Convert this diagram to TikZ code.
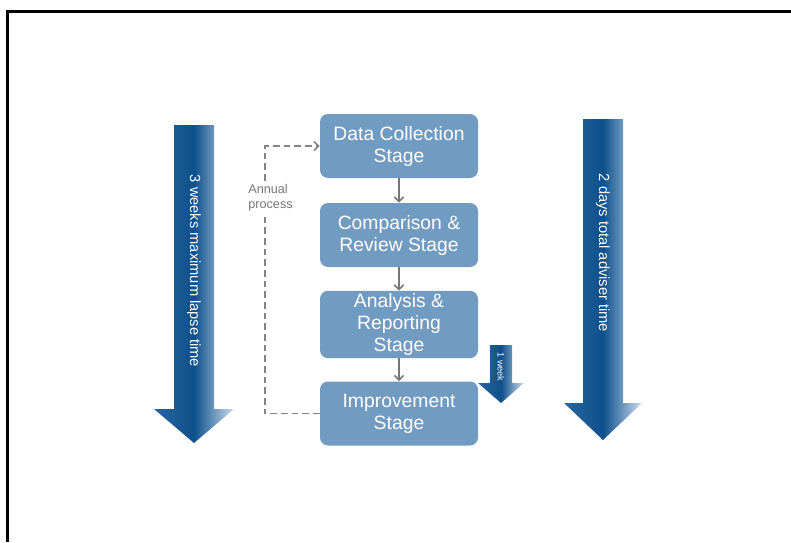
\documentclass[tikz,border=0pt]{standalone}
\usepackage{fontspec}
\setmainfont{Liberation Sans}
\usetikzlibrary{arrows.meta}
\definecolor{stageblue}{RGB}{114,155,194}
\definecolor{flowgray}{RGB}{118,118,118}
\definecolor{darkblue}{RGB}{14,80,140}
\definecolor{midblue}{RGB}{42,102,160}
\definecolor{paleblue}{RGB}{205,222,238}
\tikzset{stage/.style={rectangle,rounded corners=6pt,fill=stageblue,text=white,
  minimum width=118.5pt,minimum height=48pt,align=center,inner sep=2pt,
  font=\fontsize{14.5}{16.5}\selectfont}}
\tikzset{flow/.style={draw=flowgray,line width=1.2pt,-{Straight Barb[length=3.5pt,width=7pt]}}}
\tikzset{loop/.style={draw=flowgray!90,line width=1.2pt,dash pattern=on 5pt off 3pt,
  -{Straight Barb[length=3.5pt,width=7pt]}}}
\tikzset{timebar/.style={left color=midblue,right color=paleblue,middle color=darkblue}}
\tikzset{timetext/.style={text=white,rotate=-90,inner sep=0pt}}

\begin{document}
\begin{tikzpicture}[x=0.75pt,y=-0.75pt]
      \useasboundingbox (0,0) rectangle (791,542);
      % frame
      \draw[line width=2.6pt] (6,11.5) -- (791,11.5);
      \draw[line width=2.6pt] (7.5,10) -- (7.5,542);
      % stages
      \node[stage] (dc) at (399,146) {Data Collection\\Stage};
      \node[stage] (cr) at (399,235) {Comparison \&\\Review Stage};
      \node[stage] (ar) at (399,324.5) {Analysis \&\\Reporting\\Stage};
      \node[stage] (im) at (399,413.5) {Improvement\\Stage};
      \foreach \a/\b in {dc/cr,cr/ar,ar/im}
        \draw[flow] (\a) -- (\b);
      \draw[loop] (im.west) -- ++(-55,0) |- (dc.west);
      \node[fill=white,text=flowgray,align=left,inner sep=1pt,
        font=\fontsize{9.5}{11.5}\selectfont] (annual) at (270.5,198) {Annual\\process};
      % time arrows
      \foreach \cx/\ty/\hy/\py/\sw/\hw in {194/125/409/443/20/40,603/119/403/440/20/39,501/345/383/403/11/23}
        \shade[timebar] (\cx-\sw,\ty) -- (\cx+\sw,\ty) -- (\cx+\sw,\hy) -- (\cx+\hw,\hy)
          -- (\cx,\py) -- (\cx-\hw,\hy) -- (\cx-\sw,\hy) -- cycle;
      \node[timetext,font=\fontsize{11}{13}\selectfont] (lapse) at (194,271) {3 weeks maximum lapse time};
      \node[timetext,font=\fontsize{11}{13}\selectfont] (adviser) at (603,253) {2 days total adviser time};
      \node[timetext,font=\fontsize{6.9}{8}\selectfont] (week) at (501,367) {1 week};
\end{tikzpicture}
\end{document}
